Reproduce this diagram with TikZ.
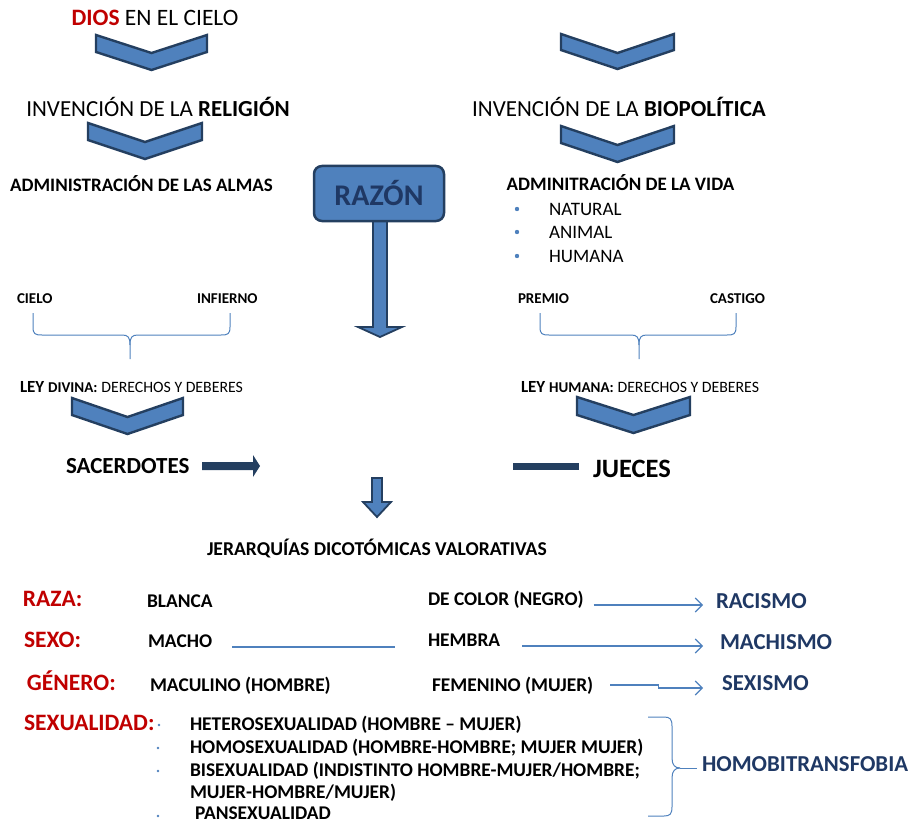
\documentclass[tikz,border=0pt]{standalone}
\usepackage{fontspec}
\setmainfont{Carlito}
\usetikzlibrary{arrows.meta}
\definecolor{accent}{HTML}{4F81BD}
\definecolor{dnavy}{HTML}{243F60}
\definecolor{navy}{HTML}{1F3864}
\definecolor{dred}{HTML}{C00000}
\newcommand{\myfs}[1]{\fontsize{#1}{#1}\selectfont}
\newcommand{\mychev}[5]{\filldraw[chev] (#1,#2) -- ({#1+#3/2},{#2+#4}) -- ({#1+#3},#2) -- ({#1+#3},{#2+#5}) -- ({#1+#3/2},{#2+#4+#5}) -- (#1,{#2+#5}) -- cycle;}
\tikzset{
  chev/.style={fill=accent, draw=dnavy, line width=2.4pt, line join=miter},
  blockarrow/.style={fill=accent, draw=dnavy, line width=1.8pt, line join=miter},
  bar/.style={fill=dnavy, draw=none},
  txt/.style={inner sep=0pt, outer sep=0pt, anchor=base},
  txtw/.style={inner sep=0pt, outer sep=0pt, anchor=base west},
  brace/.style={draw=accent, line width=1pt},
  conn/.style={draw=accent, line width=1.1pt},
  openarrow/.style={conn, -{Straight Barb[length=7pt,width=14pt,line width=1.1pt]}},
  box/.style={draw=dnavy, fill=accent, line width=2.5pt, rounded corners=8pt, minimum width=130pt, minimum height=55pt, inner sep=0pt},
  dot/.style={fill=accent},
  body/.style={txtw, font=\myfs{19.4}\bfseries},
  cat/.style={txtw, font=\myfs{23.5}\bfseries\color{dred}},
  res/.style={txtw, font=\myfs{22.8}\bfseries\color{navy}},
}
\begin{document}
\begin{tikzpicture}[x=1pt,y=-1pt]
\useasboundingbox (0,0) rectangle (916,824);

% ---- top left column
\node[txt] (dios) at (155,25.7) {\myfs{23.5}{\bfseries\color{dred}DIOS} EN EL CIELO};
\mychev{96}{35}{111}{18}{17}
\node[txt] (relig) at (158,116.4) {\myfs{23}INVENCIÓN DE LA \textbf{RELIGIÓN}};
\mychev{88}{123}{114}{19}{17}
\node[txt] (almas) at (141.5,191) {\myfs{19}\bfseries ADMINISTRACIÓN DE LAS ALMAS};

% ---- top right column
\mychev{561}{34}{113}{19}{16}
\node[txt] (biopol) at (619,117) {\myfs{23}INVENCIÓN DE LA \textbf{BIOPOLÍTICA}};
\mychev{561}{126}{113}{19}{17}
\node[txt] (vida) at (620.5,190) {\myfs{19}\bfseries ADMINITRACIÓN DE LA VIDA};
\fill[dot] (517,209) circle (2.2pt);
\fill[dot] (517,232) circle (2.2pt);
\fill[dot] (517,256) circle (2.2pt);
\node[txtw] (natural) at (549,215) {\myfs{19}NATURAL};
\node[txtw] (animal) at (549,238) {\myfs{19}ANIMAL};
\node[txtw] (humana) at (549,262) {\myfs{19}HUMANA};

% ---- RAZON
\filldraw[blockarrow] (373,215) -- (387,215) -- (387,327) -- (402,327) -- (380,337) -- (358,327) -- (373,327) -- cycle;
\node[box] (razon) at (379,193.5) {\myfs{30}\bfseries\color{navy}RAZÓN};

% ---- braces
\node[txtw] (cielo) at (17,303) {\myfs{15}\bfseries CIELO};
\node[txtw] (infierno) at (197,303) {\myfs{15}\bfseries INFIERNO};
\draw[brace] (33,313) -- (33,327) .. controls (33,334) and (35,335) .. (42,335) -- (122,335) .. controls (128,335) and (130,337) .. (130,345) -- (130,359);
\draw[brace] (130,345) .. controls (130,337) and (132,335) .. (138,335) -- (221,335) .. controls (228,335) and (230,334) .. (230,327) -- (230,313);

\node[txtw] (premio) at (518,303) {\myfs{15}\bfseries PREMIO};
\node[txtw] (castigo) at (710,303) {\myfs{15}\bfseries CASTIGO};
\draw[brace] (540,313) -- (540,327) .. controls (540,334) and (542,335) .. (549,335) -- (631,335) .. controls (637,335) and (639,337) .. (639,345) -- (639,359);
\draw[brace] (639,345) .. controls (639,337) and (641,335) .. (647,335) -- (727,335) .. controls (734,335) and (736,334) .. (736,327) -- (736,313);

% ---- laws
\node[txtw] (leydiv) at (20,392) {\myfs{17}\bfseries LEY {\myfs{15}DIVINA:} {\myfs{15.8}\mdseries DERECHOS Y DEBERES}};
\mychev{72}{398}{111}{19}{17}
\node[txtw] (leyhum) at (521,392) {\myfs{17}\bfseries LEY {\myfs{15}HUMANA:} {\myfs{15.8}\mdseries DERECHOS Y DEBERES}};
\mychev{577}{397}{113}{18}{18}

\node[txtw] (sacer) at (66,473) {\myfs{23}\bfseries SACERDOTES};
\filldraw[bar] (202,462) -- (253,462) -- (253,455) -- (260,466) -- (253,477) -- (253,470) -- (202,470) -- cycle;
\fill[bar] (513,462.5) rectangle (579,469.5);
\node[txtw] (jueces) at (593,477) {\myfs{26.5}\bfseries JUECES};

\filldraw[blockarrow] (372,478) -- (382,478) -- (382,502) -- (391,502) -- (377,517) -- (363,502) -- (372,502) -- cycle;
\node[txtw] (jerar) at (207,555) {\myfs{19.6}\bfseries JERARQUÍAS DICOTÓMICAS VALORATIVAS};

% ---- bottom table
\node[cat] (raza) at (23,606) {RAZA:};
\node[body] (blanca) at (147,607) {BLANCA};
\node[body] (negro) at (428,605) {DE COLOR (NEGRO)};
\node[res] (racismo) at (716,608) {RACISMO};
\draw[openarrow] ([shift={(10,0)}]negro.base east) -- ([shift={(-13,-3)}]racismo.base west);

\node[cat] (sexo) at (24,647) {SEXO:};
\node[body] (macho) at (148,647) {MACHO};
\node[body] (hembra) at (428,646) {HEMBRA};
\node[res] (machismo) at (720,649) {MACHISMO};
\draw[conn] ([shift={(20,0)}]macho.base east) -- ([shift={(-33,1)}]hembra.base west);
\draw[openarrow] ([shift={(22,0)}]hembra.base east) -- ([shift={(-17,-3)}]machismo.base west);

\node[cat] (genero) at (27,690) {GÉNERO:};
\node[body] (masc) at (150,691) {MACULINO (HOMBRE)};
\node[body] (fem) at (432,691) {FEMENINO (MUJER)};
\node[res] (sexismo) at (722,690) {SEXISMO};
\draw[openarrow] ([shift={(17,-6)}]fem.base east) -- ++(48,0) -- ++(0,3) -- ([shift={(-19,-2)}]sexismo.base west);

\node[cat] (sexual) at (24,730) {SEXUALIDAD:};
\fill[dot] (159,725) circle (1.3pt);
\fill[dot] (158,748) circle (1.3pt);
\fill[dot] (158,771) circle (1.3pt);
\fill[dot] (158,816) circle (1.3pt);
\node[body] (hetero) at (190,730) {HETEROSEXUALIDAD (HOMBRE – MUJER)};
\node[body] (homo) at (190,753) {HOMOSEXUALIDAD (HOMBRE-HOMBRE; MUJER MUJER)};
\node[body] (bisex) at (190,776) {BISEXUALIDAD (INDISTINTO HOMBRE-MUJER/HOMBRE;};
\node[body] (bisex2) at (190,798.5) {MUJER-HOMBRE/MUJER)};
\node[body] (pansex) at (195,819.5) {PANSEXUALIDAD};

\draw[brace] (648,717) -- (664,717) .. controls (670,717) and (672,719) .. (672,726) -- (672,758) .. controls (672,765) and (675,768) .. (680,768);
\coordinate (btip) at (680,768);
\draw[brace] (680,768) .. controls (675,768) and (672,771) .. (672,778) -- (672,807) .. controls (672,814) and (670,816) .. (664,816) -- (648,816);
\node[res] (homobi) at (702,771) {HOMOBITRANSFOBIA};
\draw[brace] (btip) -- ([shift={(-5,-3)}]homobi.base west);
\end{tikzpicture}
\end{document}
